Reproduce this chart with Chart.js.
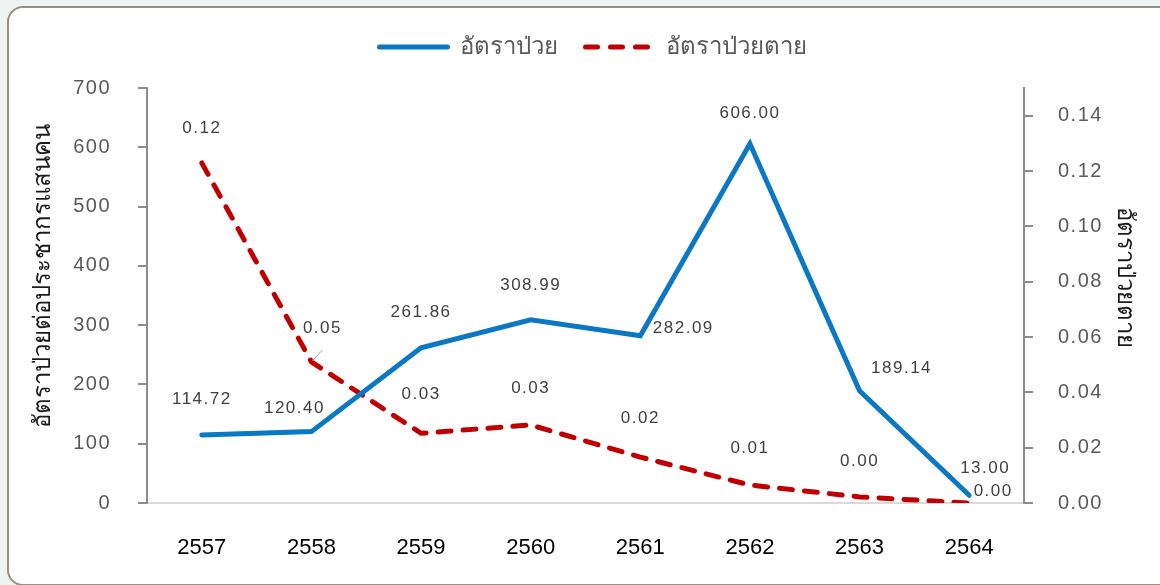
<!DOCTYPE html>
<html>
<head>
<meta charset="utf-8">
<script src="https://cdn.jsdelivr.net/npm/chart.js@4.4.1/dist/chart.umd.min.js"></script>
<style>
  html, body { margin: 0; padding: 0; background: #eef4f1; overflow: hidden; }
  #frame {
    position: absolute; left: 7px; top: 6px; width: 1170px; height: 576px;
    background: #ffffff; border: 2px solid #9b8e7e; border-radius: 16px;
  }
  #wrap { position: absolute; left: 0; top: 0; width: 1160px; height: 585px; }
</style>
</head>
<body>
<div id="frame"></div>
<div id="wrap"><canvas id="chart" width="1160" height="585"></canvas></div>
<script>
// Years (Buddhist Era)
const years = ['2557', '2558', '2559', '2560', '2561', '2562', '2563', '2564'];
// Incidence per 100,000 population
const incidence = [114.72, 120.40, 261.86, 308.99, 282.09, 606.00, 189.14, 13.00];
// Case fatality rate
const fatality = [0.1229, 0.0510, 0.0252, 0.0282, 0.0166, 0.0065, 0.0022, 0.0000];

const seriesNames = ['อัตราป่วย', 'อัตราป่วยตาย'];
const leftTitle = 'อัตราป่วยต่อประชากรแสนคน';
const rightTitle = 'อัตราป่วยตาย';

// label placement relative to each point [dx, dy]
const incidenceLabelShift = [[0, -36], [-17, -23], [0, -35], [0, -35], [43, -7], [0, -30], [42, -23], [16, -27]];
const fatalityLabelShift = [[0, -35], [11, -34], [0, -39], [0, -37], [0, -39], [0, -37], [0, -36], [24, -12]];

const FONT = "'Liberation Sans', Arial, 'Noto Sans', sans-serif";

const valueLabels = {
  id: 'valueLabels',
  afterDatasetsDraw(chart) {
    const ctx = chart.ctx;
    const shifts = [incidenceLabelShift, fatalityLabelShift];
    ctx.save();
    ctx.font = '17px ' + FONT;
    ctx.letterSpacing = '1.5px';
    ctx.fillStyle = '#404040';
    ctx.textAlign = 'center';
    ctx.textBaseline = 'middle';
    chart.data.datasets.forEach((ds, di) => {
      const meta = chart.getDatasetMeta(di);
      meta.data.forEach((pt, i) => {
        const s = shifts[di][i];
        ctx.fillText(ds.data[i].toFixed(2), pt.x + s[0], pt.y + s[1]);
      });
    });
    // leader line for the 2558 fatality label
    const p = chart.getDatasetMeta(1).data[1];
    ctx.strokeStyle = '#a6a6a6';
    ctx.lineWidth = 1;
    ctx.beginPath();
    ctx.moveTo(p.x + 11, p.y - 12);
    ctx.lineTo(p.x + 1, p.y - 1);
    ctx.stroke();
    ctx.restore();
  }
};

function drawRotated(ctx, text, x, y, angle) {
  ctx.save();
  ctx.font = '24px ' + FONT;
  ctx.fillStyle = '#1a1a1a';
  ctx.textAlign = 'center';
  ctx.textBaseline = 'middle';
  ctx.translate(x, y);
  ctx.rotate(angle);
  ctx.fillText(text, 0, 0);
  ctx.restore();
}

const axisTitles = {
  id: 'axisTitles',
  afterDraw(chart) {
    drawRotated(chart.ctx, leftTitle, 43, 276, -Math.PI / 2);
    drawRotated(chart.ctx, rightTitle, 1125, 277, Math.PI / 2);
  }
};

// extra room under the legend, and wider spacing for value-axis tick labels
const layoutTweaks = {
  id: 'layoutTweaks',
  beforeUpdate(chart) {
    const lg = chart.legend;
    if (lg && !lg._spaced) {
      const fit = lg.fit;
      lg.fit = function () { fit.call(this); this.height += 19; };
      lg._spaced = true;
    }
  },
  afterLayout(chart) {
    ['y', 'y1'].forEach(id => {
      const s = chart.scales[id];
      if (s && !s._spaced) {
        const orig = s.drawLabels;
        s.drawLabels = function (area) {
          this.ctx.save();
          this.ctx.letterSpacing = '1.5px';
          orig.call(this, area);
          this.ctx.restore();
        };
        s._spaced = true;
      }
    });
  }
};

new Chart(document.getElementById('chart'), {
  type: 'line',
  data: {
    labels: years,
    datasets: [
      {
        label: seriesNames[0],
        data: incidence,
        yAxisID: 'y',
        borderColor: '#0a78c2',
        backgroundColor: '#0a78c2',
        borderWidth: 5,
        borderCapStyle: 'round',
        borderJoinStyle: 'miter',
        pointRadius: 0,
        pointHoverRadius: 0,
        tension: 0
      },
      {
        label: seriesNames[1],
        data: fatality,
        yAxisID: 'y1',
        borderColor: '#c00000',
        backgroundColor: '#c00000',
        borderWidth: 5,
        borderDash: [13, 12],
        borderCapStyle: 'round',
        pointRadius: 0,
        pointHoverRadius: 0,
        tension: 0
      }
    ]
  },
  options: {
    responsive: false,
    animation: false,
    events: [],
    layout: { padding: { left: 36, right: 10, top: 7, bottom: 24 } },
    plugins: {
      tooltip: { enabled: false },
      legend: {
        position: 'top',
        labels: {
          font: { family: FONT, size: 24 },
          color: '#595959',
          usePointStyle: true,
          pointStyleWidth: 68,
          padding: 28,
          generateLabels(chart) {
            return Chart.defaults.plugins.legend.labels.generateLabels(chart).map((it, i) => {
              const ds = chart.data.datasets[i];
              it.pointStyle = 'line';
              it.lineWidth = 5;
              it.lineCap = 'round';
              it.strokeStyle = ds.borderColor;
              it.lineDash = ds.borderDash ? [12, 13] : [];
              return it;
            });
          }
        }
      }
    },
    scales: {
      x: {
        type: 'category',
        offset: true,
        grid: { display: false, drawTicks: false },
        border: { display: true, color: '#d9d9d9', width: 2 },
        ticks: { color: '#000000', font: { family: FONT, size: 22 }, padding: 32, maxRotation: 0 },
        afterFit(scale) { scale.height = 58; }
      },
      y: {
        position: 'left',
        min: 0, max: 700,
        ticks: { stepSize: 100, color: '#595959', font: { family: FONT, size: 20 }, padding: 27 },
        grid: { drawOnChartArea: false, color: '#8c8c8c', tickLength: 9, lineWidth: 2 },
        border: { color: '#8c8c8c', width: 2 },
        afterFit(scale) { scale.width = 111; }
      },
      y1: {
        position: 'right',
        min: 0, max: 0.15,
        afterBuildTicks(scale) { scale.ticks = scale.ticks.filter(t => t.value <= 0.1401); },
        ticks: {
          stepSize: 0.02, color: '#595959', font: { family: FONT, size: 20 }, padding: 25,
          callback: v => v.toFixed(2)
        },
        grid: { drawOnChartArea: false, color: '#8c8c8c', tickLength: 9, lineWidth: 2 },
        border: { color: '#8c8c8c', width: 2 },
        afterFit(scale) { scale.width = 126; }
      }
    }
  },
  plugins: [valueLabels, axisTitles, layoutTweaks]
});
</script>
</body>
</html>
